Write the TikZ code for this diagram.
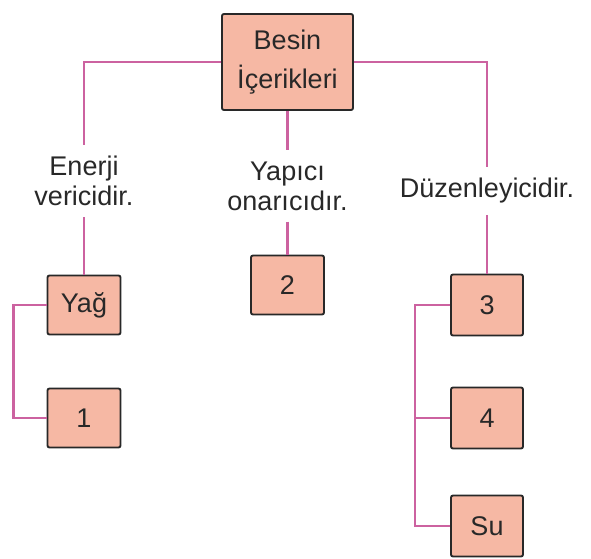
\documentclass[tikz,border=0pt]{standalone}
\usepackage{fontspec}
\setmainfont{Liberation Sans}
\usepackage{tikz}
\usetikzlibrary{calc}

\definecolor{boxfill}{RGB}{246,184,164}
\definecolor{linkpink}{RGB}{204,98,160}
\definecolor{inkgray}{RGB}{40,40,40}

\tikzset{
  box/.style={draw=inkgray,fill=boxfill,line width=1.9pt,rounded corners=2pt,text=inkgray,
    minimum width=73pt,minimum height=59pt,inner sep=0pt,font=\fontsize{27}{31}\selectfont},
  lbl/.style={align=center,text=inkgray,inner xsep=2pt,inner ysep=11pt,font=\fontsize{27}{30}\selectfont},
  link/.style={draw=linkpink,line width=2.2pt}
}

\begin{document}
\begin{tikzpicture}[x=1pt,y=-1pt]
           \useasboundingbox (0,0) rectangle (591,558);
           \node[box,minimum width=131pt,minimum height=96pt,align=center,font=\fontsize{27}{39}\selectfont] (top) at (287.5,62) {Besin\\İçerikleri};
           \node[lbl] (enerji) at (84,181) {Enerji\\vericidir.};
           \node[lbl] (yapici) at (287.5,186) {Yapıcı\\onarıcıdır.};
           \node[lbl] (duzen) at (487,191) {Düzenleyicidir.};
           \node[box] (yag) at (84,305) {Yağ};
           \node[box] (one) at (84,418) {1};
           \node[box] (two) at (287.5,285) {2};
           \node[box,minimum width=72pt,minimum height=61pt] (three) at (487,305) {3};
           \node[box,minimum width=72pt,minimum height=61pt] (four) at (487,418) {4};
           \node[box,minimum width=72pt,minimum height=61pt] (su) at (487,526) {Su};
           \draw[link] (top.west) -| (enerji.north);
           \draw[link] (top.east) -| (duzen.north);
           \draw[link] (top.south) -- (yapici.north);
           \draw[link] (enerji.south) -- (yag.north);
           \draw[link] (yapici.south) -- (two.north);
           \draw[link] (duzen.south) -- (three.north);
           \draw[link] (yag.west) -- ++(-33,0) |- (one.west);
           \draw[link] (three.west) -- ++(-35,0) |- (su.west);
           \draw[link] (four.west) -- ++(-35,0);
        \end{tikzpicture}
\end{document}
